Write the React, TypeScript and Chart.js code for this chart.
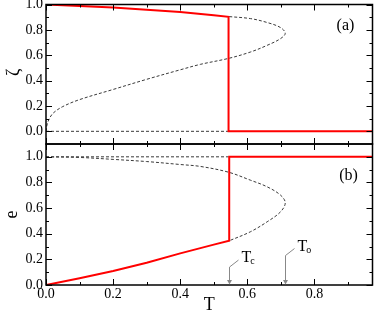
import React, { useEffect, useRef } from 'react';
import { Chart, registerables } from 'chart.js';

Chart.register(...registerables);

// ---------- axes ----------
const X_MIN = 0;
const X_MAX = 0.973;
const X_TICKS = [0, 0.2, 0.4, 0.6, 0.8];
const X_MINOR = [0, 0.1, 0.2, 0.3, 0.4, 0.5, 0.6, 0.7, 0.8, 0.9];
const Y_TICKS = [0, 0.2, 0.4, 0.6, 0.8, 1.0];
const Y_MINOR = [0, 0.1, 0.2, 0.3, 0.4, 0.5, 0.6, 0.7, 0.8, 0.9, 1.0];
const ZETA_MIN = -0.1;
const ZETA_MAX = 1.0;
const E_MIN = 0;
const E_MAX = 1.1;

// ---------- panel (a): zeta ----------
const A_RED_T = [0, 0.1, 0.2, 0.3, 0.4, 0.5, 0.544, 0.544, 0.973];
const A_RED_ZETA = [1.0, 0.989, 0.976, 0.959, 0.94, 0.916, 0.903, 0, 0];
const A_DASH_T = [0, 0.003, 0.01, 0.022, 0.05, 0.1, 0.2, 0.3, 0.4, 0.46, 0.544, 0.609, 0.659, 0.699, 0.713, 0.699, 0.659, 0.609, 0.544];
const A_DASH_ZETA = [0, 0.05, 0.1, 0.145, 0.195, 0.25, 0.33, 0.41, 0.485, 0.528, 0.575, 0.625, 0.678, 0.731, 0.773, 0.818, 0.858, 0.889, 0.905];
const A_FLAT_T = [0, 0.544];
const A_FLAT_ZETA = [0, 0];

// ---------- panel (b): e ----------
const B_RED_T = [0, 0.1, 0.2, 0.3, 0.4, 0.5, 0.546, 0.546, 0.973];
const B_RED_E = [0, 0.052, 0.109, 0.174, 0.247, 0.315, 0.345, 1.0, 1.0];
const B_DASH_T = [0, 0.1, 0.2, 0.3, 0.4, 0.46, 0.544, 0.609, 0.659, 0.699, 0.713, 0.699, 0.659, 0.609, 0.546];
const B_DASH_E = [1.0, 0.995, 0.98, 0.963, 0.94, 0.925, 0.88, 0.818, 0.766, 0.701, 0.641, 0.571, 0.493, 0.415, 0.345];
const B_FLAT_T = [0, 0.544];
const B_FLAT_E = [1, 1];

// ---------- annotations ----------
const TC = 0.544;
const TO = 0.713;
const TC_ARROW_TOP = 0.14;
const TO_ARROW_TOP = 0.23;

const SERIF = "'Liberation Serif', 'Times New Roman', serif";
const RED = '#ff0000';
const DASH = '#3a3a3a';

const pts = (xs: number[], ys: number[]) => xs.map((x, i) => ({ x, y: ys[i] }));

const framePlugin = {
  id: 'frame',
  afterDatasetsDraw(chart: any) {
    const ctx: CanvasRenderingContext2D = chart.ctx;
    const xs = chart.scales.x;
    const yt = chart.scales.yTop;
    const yb = chart.scales.yBot;
    const L = chart.chartArea.left;
    const R = chart.chartArea.right;
    const line = (x1: number, y1: number, x2: number, y2: number) => {
      ctx.beginPath();
      ctx.moveTo(x1, y1);
      ctx.lineTo(x2, y2);
      ctx.stroke();
    };
    const isMajor = (v: number, arr: number[]) => arr.some((m) => Math.abs(m - v) < 1e-6);
    ctx.save();
    ctx.strokeStyle = '#000';
    ctx.lineWidth = 1;
    for (const p of [yt, yb]) {
      const top = p.top;
      const bot = p.bottom;
      for (const v of X_MINOR) {
        const px = Math.round(xs.getPixelForValue(v)) + 0.5;
        const len = isMajor(v, X_TICKS) ? 6 : 3;
        line(px, bot, px, bot - len);
        line(px, top, px, top + len);
      }
      for (const v of Y_MINOR) {
        const py = Math.round(p.getPixelForValue(v)) + 0.5;
        const len = isMajor(v, Y_TICKS) ? 6 : 3;
        line(L, py, L + len, py);
        line(R, py, R - len, py);
      }
    }
    ctx.lineWidth = 1.5;
    for (const p of [yt, yb]) {
      ctx.strokeRect(L, p.top, R - L, p.bottom - p.top);
    }

    // axis titles
    ctx.fillStyle = '#000';
    ctx.textAlign = 'center';
    ctx.textBaseline = 'middle';
    ctx.font = `18px ${SERIF}`;
    ctx.save();
    ctx.translate(14, (yt.top + yt.bottom) / 2 - 2);
    ctx.rotate(-Math.PI / 2);
    ctx.fillText('ζ', 0, 0);
    ctx.restore();
    ctx.save();
    ctx.translate(12, (yb.top + yb.bottom) / 2);
    ctx.rotate(-Math.PI / 2);
    ctx.fillText('e', 0, 0);
    ctx.restore();
    ctx.fillText('T', (L + R) / 2, yb.bottom + 20);

    // panel labels
    ctx.font = `16px ${SERIF}`;
    ctx.fillText('(a)', R - 27, yt.top + 21);
    ctx.fillText('(b)', R - 24, yb.top + 32);

    // arrows
    const arrow = (T: number, topVal: number, sub: string) => {
      const px = Math.round(xs.getPixelForValue(T)) + 0.5;
      const base = yb.bottom;
      const topY = yb.getPixelForValue(topVal);
      ctx.strokeStyle = '#888';
      ctx.fillStyle = '#888';
      ctx.lineWidth = 1;
      line(px, topY, px, base - 4);
      ctx.beginPath();
      ctx.moveTo(px - 2.5, base - 5);
      ctx.lineTo(px + 2.5, base - 5);
      ctx.lineTo(px, base - 0.5);
      ctx.closePath();
      ctx.fill();
      line(px, topY, px + 9, topY - 7);
      ctx.fillStyle = '#000';
      ctx.textAlign = 'left';
      ctx.textBaseline = 'alphabetic';
      ctx.font = `16px ${SERIF}`;
      const tx = px + 12;
      const ty = topY - 5;
      ctx.fillText('T', tx, ty);
      const w = ctx.measureText('T').width;
      ctx.font = `10px ${SERIF}`;
      ctx.fillText(sub, tx + w - 1, ty + 2);
    };
    arrow(TC, TC_ARROW_TOP, 'c');
    arrow(TO, TO_ARROW_TOP, 'o');
    ctx.restore();
  },
};

export default function App() {
  const ref = useRef<HTMLCanvasElement>(null);
  useEffect(() => {
    if (!ref.current) return;
    const tickFont = { family: SERIF, size: 14 };
    const redStyle = { borderColor: RED, borderWidth: 2, pointRadius: 0, showLine: true, tension: 0, fill: false };
    const dashStyle = { borderColor: DASH, borderWidth: 1, borderDash: [3, 2], pointRadius: 0, showLine: true, tension: 0.35, fill: false };
    const yTicks = { padding: 3, font: tickFont, color: '#000', autoSkip: false, callback: (v: any) => Number(v).toFixed(1) };
    const chart = new Chart(ref.current, {
      type: 'scatter',
      data: {
        datasets: [
          { ...redStyle, data: pts(A_RED_T, A_RED_ZETA), yAxisID: 'yTop' },
          { ...redStyle, data: pts(B_RED_T, B_RED_E), yAxisID: 'yBot' },
          { ...dashStyle, data: pts(A_DASH_T, A_DASH_ZETA), yAxisID: 'yTop' },
          { ...dashStyle, tension: 0, data: pts(A_FLAT_T, A_FLAT_ZETA), yAxisID: 'yTop' },
          { ...dashStyle, data: pts(B_DASH_T, B_DASH_E), yAxisID: 'yBot' },
          { ...dashStyle, tension: 0, data: pts(B_FLAT_T, B_FLAT_E), yAxisID: 'yBot' },
        ] as any,
      },
      options: {
        animation: false,
        responsive: true,
        maintainAspectRatio: false,
        layout: { padding: { top: 4.5, right: 1.5, left: 0, bottom: 0 } },
        plugins: { legend: { display: false }, tooltip: { enabled: false } },
        scales: {
          x: {
            type: 'linear',
            position: 'bottom',
            min: X_MIN,
            max: X_MAX,
            grid: { display: false, drawTicks: false },
            border: { display: false },
            ticks: { padding: 1, font: tickFont, color: '#000', maxRotation: 0, autoSkip: false, callback: (v: any) => Number(v).toFixed(1) },
            afterBuildTicks: (s: any) => { s.ticks = X_TICKS.map((v) => ({ value: v })); },
            afterFit: (s: any) => { s.height = 27; s.paddingLeft = 0; s.paddingRight = 0; },
          },
          yBot: {
            type: 'linear',
            position: 'left',
            stack: 'panels',
            stackWeight: 141,
            min: E_MIN,
            max: E_MAX,
            grid: { display: false, drawTicks: false },
            border: { display: false },
            ticks: yTicks,
            afterBuildTicks: (s: any) => { s.ticks = Y_TICKS.map((v) => ({ value: v })); },
            afterFit: (s: any) => { s.width = 46; s.paddingTop = 0; s.paddingBottom = 0; },
          },
          yTop: {
            type: 'linear',
            position: 'left',
            stack: 'panels',
            stackWeight: 139.5,
            min: ZETA_MIN,
            max: ZETA_MAX,
            grid: { display: false, drawTicks: false },
            border: { display: false },
            ticks: yTicks,
            afterBuildTicks: (s: any) => { s.ticks = Y_TICKS.map((v) => ({ value: v })); },
            afterFit: (s: any) => { s.width = 46; s.paddingTop = 0; s.paddingBottom = 0; },
          },
        },
      } as any,
      plugins: [framePlugin],
    });
    return () => chart.destroy();
  }, []);
  return (
    <div style={{ position: 'fixed', left: 0, top: 0, width: 374, height: 312 }}>
      <canvas ref={ref} />
    </div>
  );
}
